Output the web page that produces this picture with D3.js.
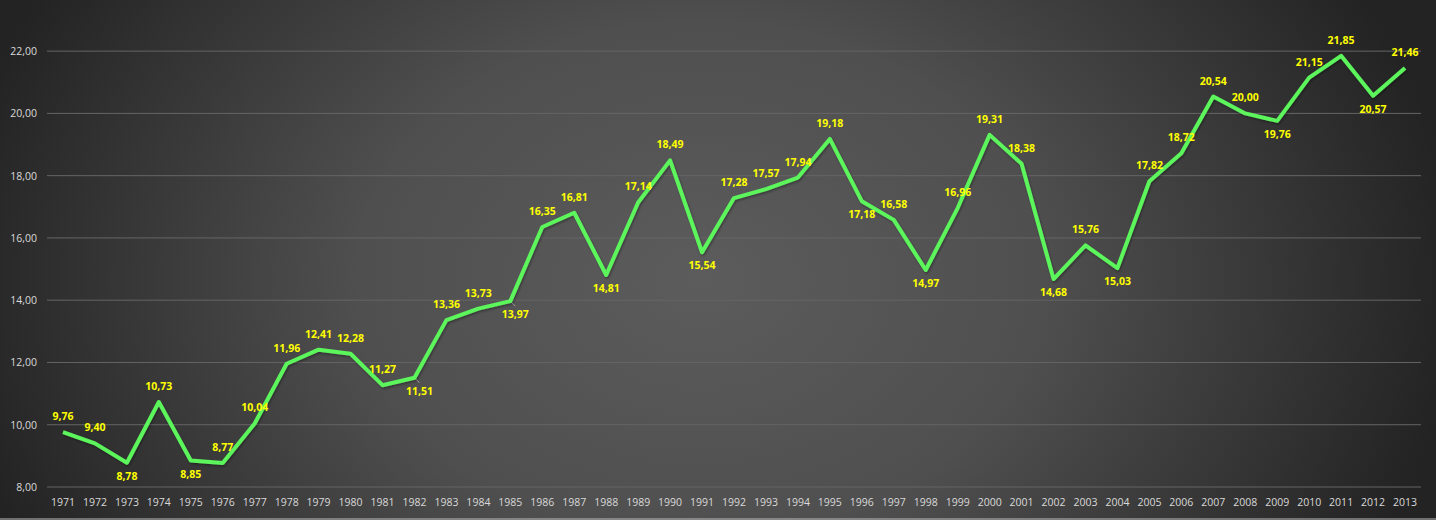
<!DOCTYPE html>
<html>
<head>
<meta charset="utf-8">
<script src="https://cdn.jsdelivr.net/npm/d3@7"></script>
<style>
  body { margin: 0; background: #2a2a2a; }
  svg { display: block; }
  .tick text { font-family: "Open Sans", sans-serif; }
</style>
</head>
<body>
<div id="chart"></div>
<script>
var YEARS = [1971,1972,1973,1974,1975,1976,1977,1978,1979,1980,1981,1982,1983,1984,1985,
             1986,1987,1988,1989,1990,1991,1992,1993,1994,1995,1996,1997,1998,1999,2000,
             2001,2002,2003,2004,2005,2006,2007,2008,2009,2010,2011,2012,2013];
var VALUES = [9.76,9.40,8.78,10.73,8.85,8.77,10.04,11.96,12.41,12.28,11.27,11.51,13.36,13.73,13.97,
              16.35,16.81,14.81,17.14,18.49,15.54,17.28,17.57,17.94,19.18,17.18,16.58,14.97,16.96,19.31,
              18.38,14.68,15.76,15.03,17.82,18.72,20.54,20.00,19.76,21.15,21.85,20.57,21.46];
var Y_TICKS = [8,10,12,14,16,18,20,22];
// years whose data label sits under the point
var LABEL_BELOW = [1973,1975,1982,1985,1988,1991,1996,1998,2002,2004,2009,2012];
// labels that were dragged aside in the original (with a leader line)
var LABEL_MOVED = [1982,1985];

var width = 1436, height = 520;
var margin = {top: 20, right: 15, bottom: 33, left: 47};
var w = width - margin.left - margin.right,
    h = height - margin.top - margin.bottom;

var svg = d3.select("#chart").append("svg")
    .attr("width", width)
    .attr("height", height);

var defs = svg.append("defs");
var grad = defs.append("radialGradient")
    .attr("id", "bg")
    .attr("gradientUnits", "userSpaceOnUse")
    .attr("cx", 700).attr("cy", 280).attr("r", 760)
    .attr("gradientTransform", "translate(700,280) scale(1,0.75) translate(-700,-280)");
grad.append("stop").attr("offset", "0").attr("stop-color", "#5c5c5c");
grad.append("stop").attr("offset", "0.45").attr("stop-color", "#4f4f4f");
grad.append("stop").attr("offset", "1").attr("stop-color", "#232323");

var shadow = defs.append("filter").attr("id", "shadow")
    .attr("x", "-5%").attr("y", "-5%").attr("width", "110%").attr("height", "110%");
shadow.append("feDropShadow")
    .attr("dx", 1).attr("dy", 1.5).attr("stdDeviation", 1.2)
    .attr("flood-color", "#000").attr("flood-opacity", 0.35);

svg.append("rect").attr("width", width).attr("height", height).attr("fill", "url(#bg)");
svg.append("line")
    .attr("x1", 0).attr("x2", width).attr("y1", height - 1).attr("y2", height - 1)
    .attr("stroke", "#bfbfbf").attr("stroke-width", 1);

var g = svg.append("g").attr("transform", "translate(" + margin.left + "," + margin.top + ")");

var x = d3.scaleBand().domain(YEARS).range([0, w]);
var y = d3.scaleLinear().domain([8, 23]).range([h, 0]);

var fmt = function(v) { return d3.format(".2f")(v).replace(".", ","); };

// gridlines
g.selectAll(".grid")
  .data(Y_TICKS)
  .enter().append("line")
    .attr("class", "grid")
    .attr("x1", 0).attr("x2", w)
    .attr("y1", function(d) { return y(d); })
    .attr("y2", function(d) { return y(d); })
    .attr("stroke", "#656565")
    .attr("stroke-width", 1);

var yAxis = d3.axisLeft(y).tickValues(Y_TICKS).tickFormat(fmt).tickSize(0).tickPadding(10);
g.append("g").attr("class", "axis axis--y").call(yAxis)
  .call(function(s) { s.select(".domain").remove(); })
  .selectAll("text").attr("fill", "#d9d9d9").style("font-size", "10.5px");

var xAxis = d3.axisBottom(x).tickSize(0).tickPadding(12);
g.append("g").attr("class", "axis axis--x")
  .attr("transform", "translate(0," + h + ")")
  .call(xAxis)
  .call(function(s) { s.select(".domain").remove(); })
  .selectAll("text").attr("fill", "#d9d9d9").style("font-size", "10.5px");

var data = YEARS.map(function(yr, i) { return {year: yr, value: VALUES[i]}; });
var cx = function(d) { return x(d.year) + x.bandwidth() / 2; };

var line = d3.line()
    .x(cx)
    .y(function(d) { return y(d.value); });

// leader lines for the moved labels
g.selectAll(".leader")
  .data(data.filter(function(d) { return LABEL_MOVED.indexOf(d.year) >= 0; }))
  .enter().append("line")
    .attr("class", "leader")
    .attr("x1", function(d) { return cx(d); })
    .attr("y1", function(d) { return y(d.value); })
    .attr("x2", function(d) { return cx(d) + 5; })
    .attr("y2", function(d) { return y(d.value) + 5; })
    .attr("stroke", "#a6a6a6")
    .attr("stroke-width", 1);

g.append("path")
  .datum(data)
  .attr("d", line)
  .attr("fill", "none")
  .attr("stroke", "#5cf55c")
  .attr("stroke-width", 4)
  .attr("stroke-linejoin", "round")
  .attr("filter", "url(#shadow)");

g.selectAll(".label")
  .data(data)
  .enter().append("text")
    .attr("class", "label")
    .attr("x", function(d) {
      return LABEL_MOVED.indexOf(d.year) >= 0 ? cx(d) + 5 : cx(d);
    })
    .attr("y", function(d) {
      return LABEL_BELOW.indexOf(d.year) >= 0 ? y(d.value) + 17 : y(d.value) - 12;
    })
    .attr("text-anchor", "middle")
    .attr("fill", "#ffff00")
    .style("font-family", "'Open Sans', sans-serif")
    .style("font-weight", "bold")
    .style("font-size", "10.5px")
    .text(function(d) { return fmt(d.value); });
</script>
</body>
</html>
